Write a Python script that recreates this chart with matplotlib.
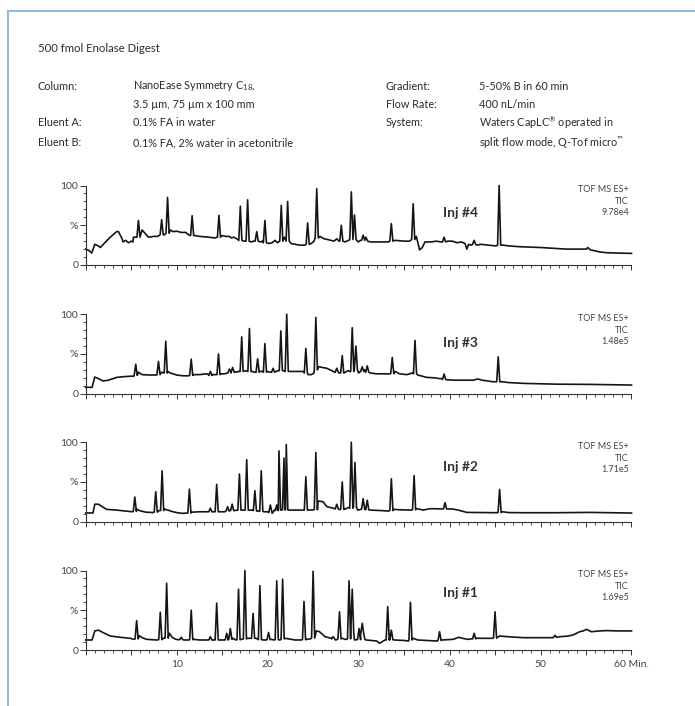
import matplotlib
matplotlib.use("Agg")
import matplotlib.pyplot as plt
from matplotlib.lines import Line2D
from matplotlib.ticker import MultipleLocator, FixedLocator

plt.rcParams['font.family'] = ['Lato', 'DejaVu Sans']
plt.rcParams['mathtext.fontset'] = 'custom'
plt.rcParams['mathtext.rm'] = 'Lato'
plt.rcParams['mathtext.it'] = 'Lato:italic'
plt.rcParams['mathtext.bf'] = 'Lato:bold'

# ---- chromatograms (time in min, intensity in %) ----
# background trace points
inj4_bt = [0, 0.4, 0.66, 1.0, 1.4, 1.6, 2.1, 2.7, 3.2, 3.4, 3.6, 4.0, 4.1, 4.4, 4.7, 5.0, 5.2, 5.25, 5.55,
           6.2, 6.7, 6.9, 7.5, 7.9, 8.65, 9.3, 9.6, 10.0, 10.5, 11.0, 11.3, 12.0, 12.5, 13.5, 14.2,
           15.0, 15.4, 15.8, 16.0, 16.3, 16.6, 17.4, 18.2, 18.45, 19.2, 19.45, 20.1, 20.5, 20.8, 21.1,
           21.3, 21.85, 22.6, 23.5, 24.1, 24.8, 25.1, 25.75, 26.2, 26.6, 27.3, 27.6, 27.85, 28.5, 28.9,
           29.95, 30.2, 30.8, 31.0, 31.3, 32.5, 33.3, 34.0, 35.0, 35.6, 36.35, 36.7, 37.0, 37.3, 38.0,
           38.5, 39.1, 39.8, 40.3, 40.8, 41.3, 41.7, 41.9, 42.1, 42.4, 43.0, 43.5, 44.2, 45.1, 45.9,
           46.5, 47.7, 49.0, 50.0, 51.5, 52.8, 54.0, 54.9, 55.5, 56.5, 57.2, 58.5, 60.0]
inj4_bv = [20, 18, 15, 26, 24, 22, 28, 35, 40, 42, 42, 33, 29, 31, 28, 30, 29, 35, 35,
           44, 37.5, 35, 36, 36, 38, 44, 42, 42.5, 41, 41, 38, 37, 36, 35, 34,
           37, 36, 36, 34, 35, 33, 30, 29, 30, 29, 30, 27, 28, 31, 28,
           30, 35, 27, 25, 25, 27, 30, 36, 33, 32, 30, 33, 30, 29, 31,
           29, 31, 35, 30, 29, 29, 29, 31, 30, 30, 36, 19, 22, 29, 29,
           30, 29, 30, 30, 28, 29, 27, 20, 26, 25, 25, 26, 25, 24, 25,
           24, 23, 22.5, 22, 21, 20, 20, 20, 19, 16.5, 15.5, 15, 14.6]
# peaks: apex time, apex height, local base level
inj4_pt = [5.8, 8.35, 9.0, 11.7, 14.65, 17.0, 17.8, 18.8, 19.7, 21.5, 22.2, 24.4, 25.4, 28.1,
           29.2, 29.55, 30.5, 33.6, 36.0, 39.4, 42.7, 45.45, 55.2]
inj4_ph = [56, 57, 85, 62, 62.5, 74, 82, 42, 56, 75, 80, 53, 96, 50,
           92, 63, 37.5, 52, 77, 35, 31, 100, 22]
inj4_pb = [35, 38, 40, 37, 35, 31, 30, 30, 28, 30, 30, 26, 34, 30,
           32, 32, 31, 30, 32, 29, 26, 25, 20]

inj3_bt = [0, 0.7, 1.0, 1.4, 1.9, 2.5, 3.4, 4.3, 4.9, 5.3, 5.8, 6.2, 7.0, 7.8, 8.35, 8.6, 9.0, 9.3,
           10.0, 10.7, 11.3, 11.8, 12.5, 13.3, 13.5, 13.9, 14.3, 14.8, 15.2, 15.6, 15.97, 16.4,
           16.9, 17.3, 17.6, 18.3, 18.6, 19.1, 19.45, 19.95, 20.3, 20.9, 21.2, 21.75, 22.4, 23.0,
           23.9, 24.45, 24.8, 25.1, 25.6, 26.0, 26.5, 27.2, 27.4, 27.85, 28.45, 28.85, 29.0, 30.0,
           30.2, 30.65, 31.3, 32.0, 33.4, 34.0, 34.5, 35.3, 35.9, 36.5, 37.0, 37.5, 38.3, 38.9,
           39.1, 39.7, 40.5, 41.5, 42.6, 43.1, 43.6, 44.8, 45.8, 46.5, 48.1, 51.7, 55.4, 60.0]
inj3_bv = [8, 8, 21, 19, 16, 17, 20.5, 21.5, 22, 22, 27, 24, 23.5, 23.5, 27, 26, 28, 26,
           23.5, 22.5, 22.5, 24, 24, 25, 24, 24, 24, 25, 25, 26, 27, 27,
           28, 29, 29, 28, 27, 28, 28, 28, 27, 28, 29, 29, 28, 28,
           28, 24, 24, 26, 34, 33, 32, 28, 27, 26, 26.5, 29, 28, 26,
           28, 30, 26, 25, 25, 28, 25, 24, 26, 23.5, 22, 20.5, 20, 19,
           19, 17.5, 17, 17, 17, 18.5, 17, 15, 15, 14, 13, 12, 11.7, 10.9]
inj3_pt = [5.5, 8.0, 8.8, 11.6, 13.7, 14.6, 15.8, 16.15, 17.15, 18.0, 18.9, 19.7, 20.6, 21.45,
           22.1, 24.2, 25.3, 27.6, 28.2, 29.3, 29.7, 30.4, 30.95, 33.7, 36.2, 39.4, 45.35]
inj3_ph = [37, 40.6, 66, 43.5, 28, 50, 31, 33, 71.5, 82, 44, 63, 32, 79,
           100, 57, 96, 32, 48, 83, 60, 34, 35, 45.6, 67, 24.7, 46.4]
inj3_pb = [23, 24, 26, 23, 23, 24, 26, 27, 28, 28, 27, 27, 27, 29,
           28, 26, 30, 27, 26, 28, 30, 28, 27, 25, 25, 18, 15]

inj2_bt = [0, 0.8, 1.0, 1.4, 1.8, 2.3, 3.4, 4.3, 5.1, 5.6, 5.9, 6.6, 7.4, 8.05, 8.6, 8.9, 9.6, 10.2,
           10.7, 11.15, 11.7, 12.5, 13.3, 13.9, 14.2, 14.7, 15.3, 15.8, 16.35, 16.7, 17.1, 17.45,
           17.95, 18.3, 18.8, 19.0, 19.6, 19.9, 20.0, 20.5, 20.75, 21.5, 22.35, 23.0, 23.9, 24.5,
           25.0, 25.55, 25.9, 26.1, 26.5, 27.2, 27.4, 27.85, 28.45, 28.9, 29.4, 29.9, 30.1, 30.72,
           31.3, 32.5, 33.3, 33.9, 34.5, 35.8, 36.4, 37.1, 37.8, 38.5, 39.2, 39.8, 40.3, 40.95,
           41.9, 43.5, 45.2, 45.8, 46.5, 48.1, 51.7, 55.4, 60.0]
inj2_bv = [11, 11, 22, 22, 19, 15.5, 14.6, 13.5, 12.5, 16, 14, 12, 11.5, 14, 16, 15, 12.5, 11,
           10.5, 11, 12, 12.5, 12.5, 12.5, 12.5, 12.5, 12.5, 14, 14, 14.6, 14.6, 14.6,
           14.6, 14.6, 13.4, 13.4, 12.5, 12.5, 12.5, 10.5, 14.6, 14.6, 14.6, 14.6, 14.6, 14.6,
           15, 26, 25.5, 25, 19, 17, 16, 15.5, 15.5, 18, 21, 14.6, 15, 16.5,
           14.6, 14, 13.4, 15.5, 15, 14.6, 16.5, 14.6, 16.3, 16.3, 16, 16, 16, 14.6,
           11.7, 11.5, 11.3, 12.5, 11.5, 11.3, 11.3, 11.7, 10.9]
inj2_pt = [5.4, 7.7, 8.4, 11.4, 13.7, 14.4, 15.6, 16.1, 16.9, 17.7, 18.6, 19.3, 20.3, 21.0,
           21.25, 21.8, 22.05, 24.2, 25.3, 27.6, 28.2, 29.2, 29.6, 30.5, 30.95, 33.6, 36.1,
           39.5, 45.5]
inj2_ph = [31, 37.7, 64, 41, 17, 47, 19, 22, 60, 78, 39, 64, 21, 21,
           89, 80, 97, 56.5, 87, 22, 50, 100, 74.5, 29, 27, 54, 58,
           24, 40.6]
inj2_pb = [13, 12, 14, 11, 12.5, 12.5, 13.5, 14, 14.6, 14.6, 14, 13, 11.5, 14,
           14.6, 15, 15, 14.6, 15, 16, 15.5, 17, 18, 16, 15, 14, 15,
           16, 11.5]

inj1_bt = [0, 0.7, 1.0, 1.4, 1.9, 2.7, 3.8, 4.9, 5.3, 5.9, 6.2, 6.7, 7.8, 8.55, 9.2, 9.5, 9.9, 10.2,
           10.8, 11.3, 11.9, 12.5, 13.5, 13.9, 14.2, 14.7, 15.2, 15.7, 16.2, 16.5, 17.15, 17.8, 18.1,
           18.7, 18.9, 19.5, 19.8, 20.4, 20.7, 21.3, 21.45, 21.95, 23.0, 23.6, 24.3, 24.7, 25.35,
           25.7, 26.3, 27.0, 27.45, 27.6, 28.25, 28.5, 28.7, 29.55, 29.75, 30.7, 30.85, 32.0, 32.3,
           32.9, 33.4, 33.9, 35.0, 35.5, 36.0, 36.5, 37.5, 38.6, 39.2, 40.4, 41.0, 41.5, 42.0, 42.4,
           43.0, 43.2, 44.0, 44.7, 45.5, 46.3, 48.1, 50.0, 51.4, 52.2, 53.0, 53.6, 54.3, 54.7,
           55.05, 55.6, 56.5, 57.3, 58.5, 60.0]
inj1_bv = [12.6, 12.6, 24, 25, 22, 17.6, 16, 14.7, 13.4, 18, 15.5, 13.4, 12.6, 14.7, 21, 16, 13.4, 13,
           12.6, 12.6, 13.4, 12.6, 12.6, 12.6, 12.6, 12.6, 12.6, 13.4, 14.7, 12.6, 13.4, 14.7, 14.7,
           14.7, 14, 12.6, 12.6, 13.4, 12.6, 12.6, 13, 14.7, 12.6, 12.6, 13.4, 14, 24,
           23, 16.8, 14.7, 12.6, 13, 14.7, 13.4, 13.4, 12.6, 13, 13, 12.6, 11.3, 8.4,
           12.6, 14.7, 12.6, 12, 11.3, 14.7, 12.6, 12, 11.3, 12.6, 13.4, 16, 14.5, 13.4, 14,
           15, 14.7, 14.7, 14.7, 17.6, 16.8, 15.5, 15.5, 15.5, 16.8, 17.5, 19, 23, 24,
           26, 23, 24, 24.4, 24, 24]
inj1_pt = [5.6, 8.2, 8.9, 10.5, 11.6, 13.7, 14.4, 15.5, 15.9, 16.8, 17.5, 18.4, 19.15, 20.1,
           21.0, 21.65, 24.0, 25.0, 27.2, 27.9, 28.95, 29.3, 30.05, 30.4, 33.2, 33.6, 35.7,
           38.9, 42.7, 45.0, 51.6]
inj1_ph = [37, 47.5, 84, 16, 50, 16.8, 59, 21, 27, 76.5, 100, 46, 81, 22,
           87, 89, 61, 99, 16.8, 48, 87, 76.5, 27, 33.6, 54.6, 25, 60,
           23, 21, 48, 18.5]
inj1_pb = [14, 13, 15, 13, 13, 12.6, 12.6, 12.6, 13.4, 13, 14, 14.7, 13, 13,
           13, 14, 13, 15, 14, 14, 14, 20, 13, 20, 12.6, 13, 12.6,
           12, 14, 15, 16]

inj_labels = ['Inj #4', 'Inj #3', 'Inj #2', 'Inj #1']
tic_values = ['9.78e4', '1.48e5', '1.71e5', '1.69e5']

header_left = ['Column:', '', 'Eluent A:', 'Eluent B:']
header_left_val = [r'NanoEase Symmetry C$_{\mathrm{18}}$,', '3.5 µm, 75 µm x 100 mm',
                   '0.1% FA in water', '0.1% FA, 2% water in acetonitrile']
header_right = ['Gradient:', 'Flow Rate:', 'System:', '']
header_right_val = ['5-50% B in 60 min', '400 nL/min',
                    r'Waters CapLC$^{\mathrm{®}}$ operated in',
                    r'split flow mode, Q-Tof micro$^{\mathrm{™}}$']

runs = [(inj4_bt, inj4_bv, inj4_pt, inj4_ph, inj4_pb),
        (inj3_bt, inj3_bv, inj3_pt, inj3_ph, inj3_pb),
        (inj2_bt, inj2_bv, inj2_pt, inj2_ph, inj2_pb),
        (inj1_bt, inj1_bv, inj1_pt, inj1_ph, inj1_pb)]

PEAK_HW = 0.17  # half width of a peak foot, minutes


def build_trace(bt, bv, pt, ph, pb):
    # merge background points with the peak apex/foot points, in time order
    pts = list(zip(bt, bv))
    for t, h, b in zip(pt, ph, pb):
        pts += [(t - PEAK_HW, b), (t, h), (t + PEAK_HW, b)]
    pts.sort(key=lambda p: p[0])
    return [p[0] for p in pts], [p[1] for p in pts]


W, H = 695, 706
fig = plt.figure(figsize=(W / 100, H / 100), dpi=100)

# light blue page frame
frame_col = '#8fbbe6'
fig.add_artist(Line2D([8 / W, 1], [1 - 11 / H, 1 - 11 / H], color=frame_col, lw=1.5))
fig.add_artist(Line2D([8 / W, 8 / W], [0, 1 - 11 / H], color=frame_col, lw=1.5))

txt_col = '#2b2b2b'
fig.text(38 / W, 1 - 49 / H, '500 fmol Enolase Digest', fontsize=8.2, color=txt_col, va='center')
row_y = [86, 105, 123, 143]
for i, y in enumerate(row_y):
    fy = 1 - y / H
    fig.text(38 / W, fy, header_left[i], fontsize=7.8, color=txt_col, va='center')
    fig.text(133 / W, fy, header_left_val[i], fontsize=7.8, color=txt_col, va='center')
    fig.text(386 / W, fy, header_right[i], fontsize=7.8, color=txt_col, va='center')
    fig.text(479 / W, fy, header_right_val[i], fontsize=7.8, color=txt_col, va='center')

# axes placement (pixel rows of the 0% line)
zero_rows = [265, 393.7, 521.7, 650]
inj_y = [0.66, 0.64, 0.69, 0.72]
left = 85.7 / W
width = (631.5 - 85.7) / W
height = 79.5 / H

for k, run in enumerate(runs):
    tt, vv = build_trace(*run)
    ax = fig.add_axes([left, 1 - zero_rows[k] / H, width, height])
    ax.plot(tt, vv, color='#151515', lw=1.2, clip_on=False, solid_joinstyle='round')
    ax.set_xlim(0, 60)
    ax.set_ylim(0, 100)
    for s in ['top', 'right']:
        ax.spines[s].set_visible(False)
    for s in ['left', 'bottom']:
        ax.spines[s].set_color('#333333')
        ax.spines[s].set_linewidth(0.8)

    ax.yaxis.set_major_locator(FixedLocator([0, 50, 100]))
    ax.set_yticklabels(['0', '%', '100'])
    ax.yaxis.set_minor_locator(MultipleLocator(10))
    ax.tick_params(axis='y', which='major', length=4.3, width=0.7, pad=1,
                   labelsize=7.5, labelcolor='#444444', color='#333333')
    ax.tick_params(axis='y', which='minor', length=2.2, width=0.6, color='#333333')

    ax.xaxis.set_major_locator(MultipleLocator(5))
    ax.xaxis.set_minor_locator(MultipleLocator(1))
    ax.tick_params(axis='x', which='major', length=3.6, width=0.7, color='#333333',
                   labelsize=7.5, labelcolor='#444444', pad=3.5)
    ax.tick_params(axis='x', which='minor', length=2.2, width=0.6, color='#333333')
    if k == 3:
        ticks = list(range(0, 61, 5))
        labels = ['' if (t == 0 or t % 10) else str(t) for t in ticks]
        labels[-1] = '60 Min.'
        ax.set_xticks(ticks)
        ax.set_xticklabels(labels)
    else:
        ax.set_xticklabels([])
    ax.patch.set_visible(False)

    ax.text(39.3, inj_y[k] * 100, inj_labels[k], fontsize=10, fontweight='bold',
            color='#333333', va='center', ha='left')
    ax.text(0.995, 0.95, 'TOF MS ES+', transform=ax.transAxes, ha='right', va='center',
            fontsize=6.5, color='#444444')
    ax.text(0.995, 0.80, 'TIC', transform=ax.transAxes, ha='right', va='center',
            fontsize=6.5, color='#444444')
    ax.text(0.995, 0.66, tic_values[k], transform=ax.transAxes, ha='right', va='center',
            fontsize=6.5, color='#444444')

fig.savefig('out.png', dpi=100)
